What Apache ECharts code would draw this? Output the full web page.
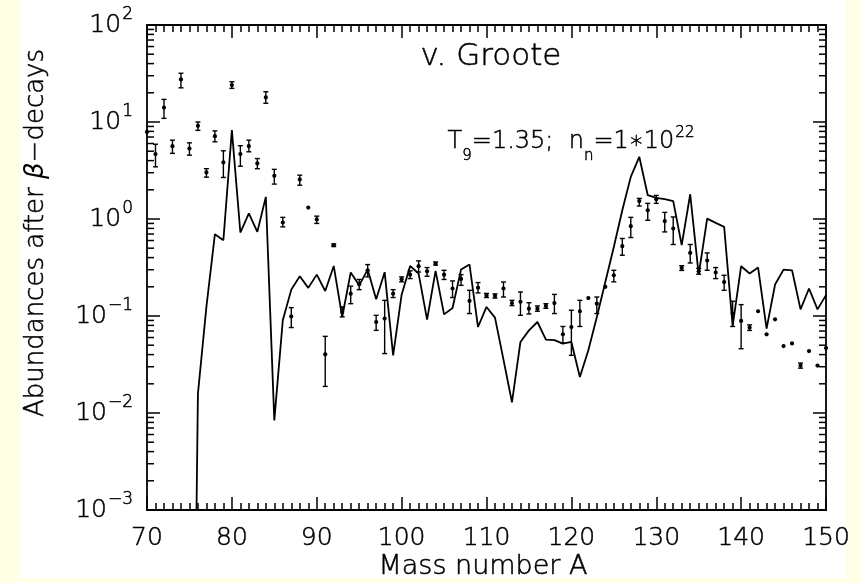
<!DOCTYPE html>
<html>
<head>
<meta charset="utf-8">
<script src="https://cdn.jsdelivr.net/npm/echarts@6/dist/echarts.min.js"></script>
<style>
  html, body { margin: 0; padding: 0; background: #FFFFE6; }
  #chart { width: 861px; height: 583px; }
</style>
</head>
<body>
<div id="chart"></div>
<script>
// Measured abundances (after beta decays) with their error ranges
const obsMass = [70, 71, 72, 73, 74, 75, 76, 77, 78, 79, 80, 81, 82, 83, 84, 85, 86, 87, 88, 89,
  90, 91, 92, 93, 94, 95, 96, 97, 98, 99, 100, 101, 102, 103, 104, 105, 106, 107, 108, 109,
  110, 111, 112, 113, 114, 115, 116, 117, 118, 119, 120, 121, 122, 123, 124, 125, 126, 127, 128, 129,
  130, 131, 132, 133, 134, 135, 136, 137, 138, 139, 140, 141, 142, 143, 144, 145, 146, 147, 148, 149, 150];
const obsValue = [7.9, 4.67, 14.1, 5.64, 27.5, 5.33, 9.14, 3.02, 7.15, 3.83, 24.0, 4.67, 5.64, 3.74, 17.9, 2.79, 0.92, 0.099, 2.56, 1.31,
  0.99, 0.0403, 0.537, 0.110, 0.170, 0.212, 0.296, 0.0867, 0.094, 0.170, 0.239, 0.267, 0.326, 0.289, 0.347, 0.267, 0.192, 0.241, 0.143, 0.196,
  0.163, 0.161, 0.192, 0.136, 0.140, 0.119, 0.119, 0.127, 0.136, 0.0647, 0.077, 0.112, 0.153, 0.134, 0.200, 0.263, 0.524, 0.843, 1.53, 1.23,
  1.60, 0.949, 0.798, 0.313, 0.447, 0.29, 0.373, 0.281, 0.224, 0.106, 0.089, 0.076, 0.112, 0.0647, 0.0925, 0.049, 0.0522, 0.0308, 0.0435, 0.0308, 0.0468];
const obsLow = [7.9, 3.45, 10.9, 4.75, 22.5, 4.55, 8.2, 2.7, 6.25, 2.68, 22.2, 3.5, 4.93, 3.3, 15.6, 2.29, 0.83, 0.076, 2.23, 1.31,
  0.90, 0.0188, 0.52, 0.098, 0.134, 0.187, 0.253, 0.0711, 0.041, 0.155, 0.225, 0.243, 0.284, 0.257, 0.335, 0.238, 0.155, 0.207, 0.106, 0.173,
  0.155, 0.153, 0.157, 0.128, 0.1016, 0.105, 0.112, 0.120, 0.106, 0.0526, 0.0393, 0.078, 0.153, 0.106, 0.200, 0.225, 0.423, 0.644, 1.36, 0.97,
  1.45, 0.736, 0.546, 0.295, 0.352, 0.27, 0.296, 0.243, 0.184, 0.078, 0.046, 0.071, 0.112, 0.0647, 0.0925, 0.049, 0.0522, 0.029, 0.0435, 0.0308, 0.0468];
const obsHigh = [7.9, 5.9, 17.1, 6.5, 31.8, 6.1, 10.0, 3.3, 8.1, 5.05, 26.0, 5.7, 6.5, 4.2, 20.5, 3.25, 1.04, 0.122, 2.83, 1.31,
  1.07, 0.0617, 0.553, 0.124, 0.203, 0.238, 0.339, 0.1016, 0.145, 0.187, 0.253, 0.292, 0.37, 0.316, 0.36, 0.296, 0.23, 0.267, 0.184, 0.221,
  0.171, 0.169, 0.224, 0.145, 0.177, 0.137, 0.127, 0.134, 0.167, 0.078, 0.1146, 0.145, 0.153, 0.157, 0.200, 0.296, 0.63, 1.04, 1.63, 1.45,
  1.75, 1.17, 1.05, 0.33, 0.546, 0.31, 0.447, 0.316, 0.263, 0.142, 0.131, 0.081, 0.112, 0.0647, 0.0925, 0.049, 0.0522, 0.0327, 0.0435, 0.0308, 0.0468];

// Calculated abundances (T9 = 1.35, nn = 1e22)
const modelMass = [75, 76, 77, 78, 79, 80, 81, 82, 83, 84, 85, 86, 87, 88, 89,
  90, 91, 92, 93, 94, 95, 96, 97, 98, 99, 100, 101, 102, 103, 104, 105, 106, 107, 108, 109,
  110, 111, 112, 113, 114, 115, 116, 117, 118, 119, 120, 121, 122, 123, 124, 125, 126, 127, 128, 129,
  130, 131, 132, 133, 134, 135, 136, 137, 138, 139, 140, 141, 142, 143, 144, 145, 146, 147, 148, 149, 150];
const modelValue = [1e-9, 0.0158, 0.124, 0.697, 0.604, 8.24, 0.725, 1.14, 0.736, 1.69, 0.0084, 0.0904, 0.187, 0.257, 0.195,
  0.267, 0.181, 0.328, 0.0977, 0.281, 0.207, 0.301, 0.149, 0.283, 0.0393, 0.166, 0.328, 0.274, 0.0918, 0.292, 0.104, 0.121, 0.301, 0.339, 0.077,
  0.124, 0.0962, 0.0355, 0.0129, 0.054, 0.0711, 0.0867, 0.057, 0.0565, 0.0519, 0.054, 0.0235, 0.0443, 0.0977, 0.224, 0.515, 1.23, 2.72, 4.38, 1.76,
  1.65, 1.6, 1.53, 0.537, 1.80, 0.267, 1.01, 0.912, 0.83, 0.0788, 0.326, 0.274, 0.316, 0.0741, 0.211, 0.301, 0.296, 0.117, 0.192, 0.117, 0.164];

// Axis ranges
const xRange = [70, 150];
const yRange = [1e-3, 1e2];

const FONT = 'DejaVu Sans';
const INK = '#000';
const OUTLINE = 0.5;

// label styles (ECharts label model): thin face, slightly outlined so strokes stay dark
function lbl(extra) {
  return Object.assign({ fontFamily: FONT, fontWeight: 200, color: INK, textBorderColor: INK, textBorderWidth: OUTLINE }, extra);
}
// graphic text styles (zrender): same look via stroke/lineWidth
function gtx(extra) {
  return Object.assign({ fontFamily: FONT, fontWeight: 200, fill: INK, stroke: INK, lineWidth: OUTLINE }, extra);
}

// decade minor tick positions 2..9 x 10^e
const minorTickValues = [];
for (let e = -3; e < 2; e++) {
  for (let d = 2; d <= 9; d++) minorTickValues.push(d * Math.pow(10, e));
}

const chart = echarts.init(document.getElementById('chart'), null, { renderer: 'canvas' });

function expLabel(v) {
  const e = Math.round(Math.log10(v));
  return '{b|10}{s|' + (e < 0 ? '\u2212' + (-e) : e) + '}';
}

const yLabelRich = {
  b: lbl({ fontSize: 25, lineHeight: 40, verticalAlign: 'middle' }),
  s: lbl({ fontSize: 17, verticalAlign: 'top', padding: [1, 0, 0, 1] })
};

const axisCommon = {
  axisLine: { show: true, onZero: false, lineStyle: { color: INK, width: 1.8 } },
  splitLine: { show: false }
};

const option = {
  backgroundColor: '#FFFFE6',
  animation: false,
  grid: { left: 147, right: 35, top: 25, bottom: 73, containLabel: false },
  graphic: [
    { type: 'rect', z: -100, silent: true, shape: { x: 20, y: 0, width: 826, height: 578 }, style: { fill: '#FFFFFF' } },
    { type: 'text', z: 100, silent: true, x: 491, y: 57,
      style: gtx({ text: 'v. Groote', fontSize: 31, align: 'center', verticalAlign: 'middle' }) },
    { type: 'text', z: 100, silent: true, x: 571, y: 142,
      style: {
        text: '{m|T}{sub|9}{m|=1.35;  n}{sub|n}{m|=1\u221710}{sup|22}',
        align: 'center', verticalAlign: 'middle',
        rich: {
          m: gtx({ fontSize: 24, lineHeight: 44, verticalAlign: 'middle' }),
          sub: gtx({ fontSize: 15, lineHeight: 17, verticalAlign: 'bottom' }),
          sup: gtx({ fontSize: 15, verticalAlign: 'top', padding: [6, 0, 0, 1] })
        }
      } },
    { type: 'text', z: 100, silent: true, x: 36, y: 233, rotation: Math.PI / 2,
      style: {
        text: '{m|Abundances after }{g|\u03b2}{m|\u2212decays}',
        align: 'center', verticalAlign: 'middle',
        rich: {
          m: gtx({ fontSize: 26 }),
          g: { fontFamily: FONT, fontSize: 26, fill: INK, fontStyle: 'italic' }
        }
      } },
    { type: 'text', z: 100, silent: true, x: 483, y: 567,
      style: gtx({ text: 'Mass number A', fontSize: 27, align: 'center', verticalAlign: 'middle' }) }
  ],
  xAxis: [
    Object.assign({}, axisCommon, {
      type: 'value', position: 'bottom', min: xRange[0], max: xRange[1], interval: 10,
      axisTick: { show: true, inside: true, length: 13, lineStyle: { color: INK, width: 1.5 } },
      minorTick: { show: true, splitNumber: 10, length: 7, lineStyle: { color: INK, width: 1.5 } },
      axisLabel: lbl({ show: true, margin: 16, fontSize: 25 })
    }),
    Object.assign({}, axisCommon, {
      type: 'value', position: 'top', min: xRange[0], max: xRange[1], interval: 10,
      axisTick: { show: true, inside: true, length: 13, lineStyle: { color: INK, width: 1.5 } },
      minorTick: { show: true, splitNumber: 10, length: 7, lineStyle: { color: INK, width: 1.5 } },
      axisLabel: { show: false }
    })
  ],
  yAxis: [
    Object.assign({}, axisCommon, {
      type: 'log', logBase: 10, position: 'left', min: yRange[0], max: yRange[1],
      axisTick: { show: true, inside: true, length: 13, lineStyle: { color: INK, width: 1.5 } },
      axisLabel: { show: true, margin: 14, formatter: expLabel, rich: yLabelRich }
    }),
    Object.assign({}, axisCommon, {
      type: 'log', logBase: 10, position: 'right', min: yRange[0], max: yRange[1],
      axisTick: { show: true, inside: true, length: 13, lineStyle: { color: INK, width: 1.5 } },
      axisLabel: { show: false }
    })
  ],
  series: [
    {
      // minor ticks of the log axes, both sides
      type: 'custom', silent: true, xAxisIndex: 0, yAxisIndex: 0, clip: false,
      data: minorTickValues.map(v => [xRange[0], v]),
      renderItem: function (params, api) {
        const p = api.coord([api.value(0), api.value(1)]);
        const r = params.coordSys;
        const st = { stroke: INK, lineWidth: 1.5 };
        return {
          type: 'group',
          children: [
            { type: 'line', shape: { x1: r.x, y1: p[1], x2: r.x + 7, y2: p[1] }, style: st },
            { type: 'line', shape: { x1: r.x + r.width - 7, y1: p[1], x2: r.x + r.width, y2: p[1] }, style: st }
          ]
        };
      }
    },
    {
      name: 'calculated', type: 'line', xAxisIndex: 0, yAxisIndex: 0,
      data: modelMass.map((a, i) => [a, modelValue[i]]),
      showSymbol: false, clip: true,
      lineStyle: { color: INK, width: 1.8 }
    },
    {
      name: 'observed', type: 'custom', xAxisIndex: 0, yAxisIndex: 0, clip: false,
      data: obsMass.map((a, i) => [a, obsValue[i], obsLow[i], obsHigh[i]]),
      encode: { x: 0, y: 1 },
      renderItem: function (params, api) {
        const a = api.value(0);
        const c = api.coord([a, api.value(1)]);
        const lo = api.value(2), hi = api.value(3);
        const children = [];
        const st = { stroke: INK, lineWidth: 1.4 };
        if (hi > lo) {
          const yl = api.coord([a, lo])[1];
          const yh = api.coord([a, hi])[1];
          children.push({ type: 'line', shape: { x1: c[0], y1: yl, x2: c[0], y2: yh }, style: st });
          children.push({ type: 'line', shape: { x1: c[0] - 2.5, y1: yl, x2: c[0] + 2.5, y2: yl }, style: st });
          children.push({ type: 'line', shape: { x1: c[0] - 2.5, y1: yh, x2: c[0] + 2.5, y2: yh }, style: st });
        }
        children.push({ type: 'circle', shape: { cx: c[0], cy: c[1], r: 2.1 }, style: { fill: INK } });
        return { type: 'group', children: children };
      }
    }
  ]
};

chart.setOption(option);
</script>
</body>
</html>
